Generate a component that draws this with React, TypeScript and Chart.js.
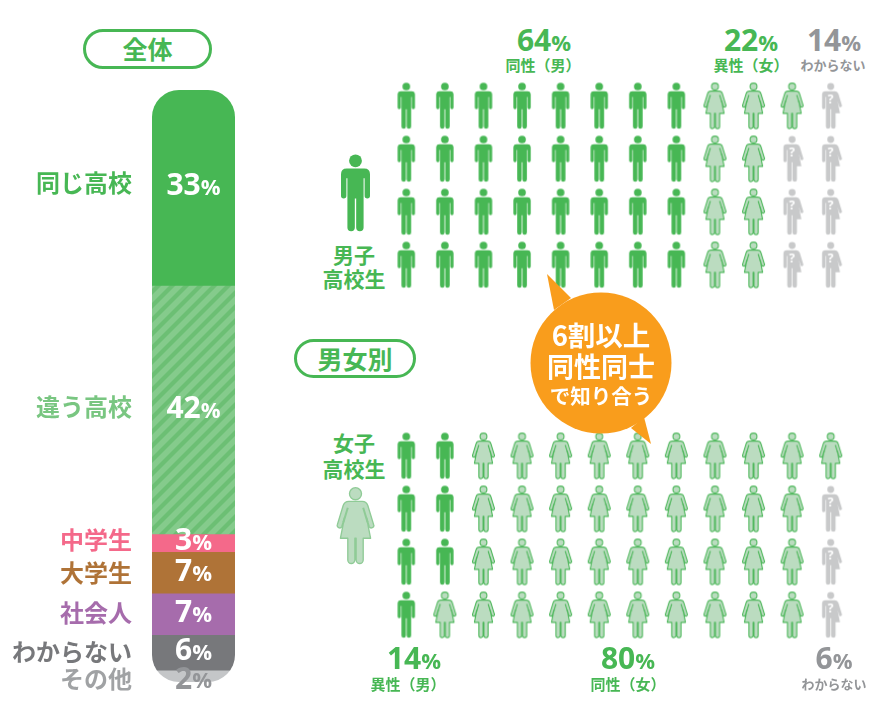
import React, { useEffect, useRef } from "react";
import { Chart, registerables } from "chart.js";

Chart.register(...registerables);

// ---- data ----
const barCategories = ["同じ高校", "違う高校", "中学生", "大学生", "社会人", "わからない", "その他"];
const barValues = [33, 42, 3, 7, 7, 6, 2];
const boysRows = [
  [8, 3, 1],
  [8, 2, 2],
  [8, 2, 2],
  [8, 2, 2],
];
const girlsRows = [
  [2, 10, 0],
  [2, 9, 1],
  [2, 9, 1],
  [1, 10, 1],
];
const boysPercents = [64, 22, 14];
const boysPercentLabels = ["同性（男）", "異性（女）", "わからない"];
const girlsPercents = [14, 80, 6];
const girlsPercentLabels = ["異性（男）", "同性（女）", "わからない"];

// ---- styles ----
const GREEN = "#47B754";
const barColors = [GREEN, "hatch", "#F4698A", "#AF7337", "#A66CAC", "#77787B", "#C4C6C8"];
const labelColors = [GREEN, "#79C681", "#F4698A", "#AF7337", "#A66CAC", "#77787B", "#A0A2A4"];
const valueColors = ["#fff", "#fff", "#fff", "#fff", "#fff", "#fff", "#939598"];
const valueNudge = [-1, 0, -1, 0, 0, -1, 4];
const labelNudge = [-5, -3, -3, 0, -1, -1, 3];
const GRAY_TEXT = "#939598";
const CJK = '"Noto Sans CJK JP", sans-serif';
const NUM = '"Open Sans", sans-serif';

const MAN_PATH =
  "M17 43H69Q86 43 86 60V124A8 8 0 0 1 70 124V72H67V218A11 11 0 0 1 45 218V132H41V218A11 11 0 0 1 19 218V72H16V124A8 8 0 0 1 0 124V60Q0 43 17 43Z";
const WOMAN_PATH =
  "M35 43H75Q88 43 92 56L109 112A7 7 0 0 1 96 118L88 92L100 153H78V218A10.5 10.5 0 0 1 57 218V153H53V218A10.5 10.5 0 0 1 32 218V153H10L22 92L14 118A7 7 0 0 1 1 112L18 56Q22 43 35 43Z";
const WOMAN_INNER = "M78 62L91 105M32 62L19 105";
const UNKNOWN_PATH =
  "M17 43H64Q77 43 81 56L98 112A7 7 0 0 1 85 118L77 92L89 153H67V218A11 11 0 0 1 45 218V132H41V218A11 11 0 0 1 19 218V72H16V124A8 8 0 0 1 0 124V60Q0 43 17 43Z";

function makeIcon(kind: "man" | "woman" | "unknown"): HTMLCanvasElement {
  const s = 46 / 228;
  const halfW = kind === "man" ? 43 : 55;
  const c = document.createElement("canvas");
  c.width = Math.ceil(halfW * 2 * s) + 4;
  c.height = 50;
  const ctx = c.getContext("2d")!;
  ctx.translate(c.width / 2, 2);
  ctx.scale(s, s);
  ctx.translate(-(kind === "man" || kind === "unknown" ? 43 : 55), 0);
  const headX = kind === "woman" ? 55 : 43;
  if (kind === "man") {
    ctx.fillStyle = GREEN;
    ctx.fill(new Path2D(MAN_PATH));
    ctx.beginPath();
    ctx.arc(headX, 20, 19, 0, Math.PI * 2);
    ctx.fill();
  } else if (kind === "woman") {
    ctx.fillStyle = "#BBDCC0";
    ctx.strokeStyle = "#4FB85C";
    ctx.lineWidth = 5.5;
    ctx.lineJoin = "round";
    const body = new Path2D(WOMAN_PATH);
    ctx.fill(body);
    ctx.stroke(body);
    ctx.stroke(new Path2D(WOMAN_INNER));
    ctx.beginPath();
    ctx.arc(headX, 20, 17, 0, Math.PI * 2);
    ctx.fill();
    ctx.stroke();
  } else {
    ctx.fillStyle = "#C8C9CA";
    ctx.fill(new Path2D(UNKNOWN_PATH));
    ctx.beginPath();
    ctx.arc(headX, 20, 17, 0, Math.PI * 2);
    ctx.fill();
    ctx.fillStyle = "#fff";
    ctx.font = `700 60px ${NUM}`;
    ctx.textAlign = "center";
    ctx.textBaseline = "middle";
    ctx.fillText("?", 43, 88);
  }
  return c;
}

function makeHatch(ctx: CanvasRenderingContext2D): CanvasPattern {
  const size = 14;
  const c = document.createElement("canvas");
  c.width = size;
  c.height = size;
  const p = c.getContext("2d")!;
  p.fillStyle = "#85CB8C";
  p.fillRect(0, 0, size, size);
  p.strokeStyle = "#6CBF74";
  p.lineWidth = 4.2;
  for (const o of [-size, 0, size]) {
    p.beginPath();
    p.moveTo(o - 2, size + 2);
    p.lineTo(o + size + 2, -2);
    p.stroke();
  }
  return ctx.createPattern(c, "repeat")!;
}

function rowsToPoints(rows: number[][], kindIndex: number) {
  const pts: { x: number; y: number }[] = [];
  rows.forEach((counts, y) => {
    const start = counts.slice(0, kindIndex).reduce((a, b) => a + b, 0);
    for (let i = 0; i < counts[kindIndex]; i++) pts.push({ x: start + i, y });
  });
  return pts;
}

function makeGrid(canvas: HTMLCanvasElement, rows: number[][]) {
  const kinds = ["man", "woman", "unknown"] as const;
  return new Chart(canvas, {
    type: "scatter",
    data: {
      datasets: kinds.map((k, i) => ({
        label: k,
        data: rowsToPoints(rows, i),
        pointStyle: makeIcon(k),
        pointRadius: 20,
        clip: false as any,
      })),
    },
    options: {
      animation: false,
      responsive: false,
      maintainAspectRatio: false,
      devicePixelRatio: 1,
      layout: { padding: 0, autoPadding: false },
      plugins: { legend: { display: false }, tooltip: { enabled: false } },
      scales: {
        x: { type: "linear", display: false, min: -0.5, max: 11.5 },
        y: { type: "linear", display: false, min: -0.5, max: 3.5, reverse: true },
      },
    },
  });
}

const barDecor = {
  id: "barDecor",
  beforeDatasetsDraw(chart: any) {
    const { ctx, chartArea: a } = chart;
    ctx.save();
    ctx.beginPath();
    ctx.roundRect(a.left, a.top, a.right - a.left, a.bottom - a.top, 27);
    ctx.clip();
  },
  afterDatasetsDraw(chart: any) {
    const { ctx, chartArea: a, scales } = chart;
    ctx.restore();
    let cum = 0;
    const cx = (a.left + a.right) / 2;
    barValues.forEach((v, i) => {
      const mid = scales.y.getPixelForValue(cum + v / 2);
      cum += v;
      ctx.save();
      ctx.textBaseline = "middle";
      ctx.font = `700 24px ${CJK}`;
      ctx.textAlign = "right";
      ctx.fillStyle = labelColors[i];
      ctx.fillText(barCategories[i], 132, mid + labelNudge[i]);
      const num = String(v);
      ctx.font = `700 30px ${NUM}`;
      const w1 = ctx.measureText(num).width;
      ctx.font = `700 22px ${NUM}`;
      const w2 = ctx.measureText("%").width;
      const left = cx - (w1 + w2) / 2;
      ctx.textAlign = "left";
      ctx.fillStyle = valueColors[i];
      ctx.font = `700 30px ${NUM}`;
      ctx.fillText(num, left, mid + valueNudge[i]);
      ctx.font = `700 22px ${NUM}`;
      ctx.fillText("%", left + w1, mid + valueNudge[i] + 2);
      ctx.restore();
    });
  },
};

function T(props: { x: number; y: number; size: number; color: string; children: React.ReactNode; font?: string }) {
  return (
    <div
      style={{
        position: "absolute",
        left: props.x,
        top: props.y,
        transform: "translate(-50%,-50%)",
        fontFamily: props.font ?? CJK,
        fontWeight: 700,
        fontSize: props.size,
        color: props.color,
        lineHeight: 1,
        whiteSpace: "nowrap",
      }}
    >
      {props.children}
    </div>
  );
}

function Pct(props: { x: number; y: number; value: number; color: string }) {
  return (
    <T x={props.x} y={props.y} size={30} color={props.color} font={NUM}>
      {props.value}
      <span style={{ fontSize: 22 }}>%</span>
    </T>
  );
}

function Pill(props: { left: number; top: number; w: number; h: number; text: string }) {
  return (
    <div
      style={{
        position: "absolute",
        left: props.left,
        top: props.top,
        width: props.w,
        height: props.h,
        boxSizing: "border-box",
        border: `3px solid ${GREEN}`,
        borderRadius: props.h / 2,
        background: "#fff",
        color: GREEN,
        fontFamily: CJK,
        fontWeight: 700,
        fontSize: 25,
        lineHeight: `${props.h - 7}px`,
        textAlign: "center",
      }}
    >
      {props.text}
    </div>
  );
}

export default function App() {
  const barRef = useRef<HTMLCanvasElement>(null);
  const topRef = useRef<HTMLCanvasElement>(null);
  const botRef = useRef<HTMLCanvasElement>(null);

  useEffect(() => {
    const ctx = barRef.current!.getContext("2d")!;
    const hatch = makeHatch(ctx);
    const bar = new Chart(barRef.current!, {
      type: "bar",
      data: {
        labels: ["全体"],
        datasets: barValues.map((v, i) => ({
          label: barCategories[i],
          data: [v],
          backgroundColor: barColors[i] === "hatch" ? hatch : barColors[i],
          borderWidth: 0,
          barPercentage: 1,
          categoryPercentage: 1,
        })),
      },
      options: {
        animation: false,
        responsive: false,
        maintainAspectRatio: false,
        devicePixelRatio: 1,
        layout: { padding: { left: 152, right: 25, top: 10, bottom: 26 } },
        plugins: { legend: { display: false }, tooltip: { enabled: false } },
        scales: {
          x: { stacked: true, display: false },
          y: { stacked: true, display: false, min: 0, max: 100, reverse: true },
        },
      },
      plugins: [barDecor],
    });
    const top = makeGrid(topRef.current!, boysRows);
    const bot = makeGrid(botRef.current!, girlsRows);
    return () => {
      bar.destroy();
      top.destroy();
      bot.destroy();
    };
  }, []);

  return (
    <div style={{ position: "absolute", left: 0, top: 0, width: 890, height: 708, background: "#fff", overflow: "hidden" }}>
      <canvas ref={barRef} width={260} height={628} style={{ position: "absolute", left: 0, top: 80 }} />
      <canvas ref={topRef} width={463} height={212} style={{ position: "absolute", left: 387, top: 79 }} />
      <canvas ref={botRef} width={463} height={212} style={{ position: "absolute", left: 387, top: 429 }} />

      <Pill left={83} top={29} w={129} h={40} text="全体" />
      <Pill left={294} top={339} w={122} h={39} text="男女別" />

      <Pct x={544} y={40} value={boysPercents[0]} color={GREEN} />
      <T x={543} y={64} size={15} color={GREEN}>{boysPercentLabels[0]}</T>
      <Pct x={751} y={40} value={boysPercents[1]} color={GREEN} />
      <T x={751} y={64} size={15} color={GREEN}>{boysPercentLabels[1]}</T>
      <Pct x={834} y={40} value={boysPercents[2]} color={GRAY_TEXT} />
      <T x={833} y={64} size={13} color={GRAY_TEXT}>{boysPercentLabels[2]}</T>

      <Pct x={414} y={658} value={girlsPercents[0]} color={GREEN} />
      <T x={408} y={683} size={15} color={GREEN}>{girlsPercentLabels[0]}</T>
      <Pct x={628} y={658} value={girlsPercents[1]} color={GREEN} />
      <T x={628} y={683} size={15} color={GREEN}>{girlsPercentLabels[1]}</T>
      <Pct x={834} y={658} value={girlsPercents[2]} color={GRAY_TEXT} />
      <T x={834} y={683} size={13} color={GRAY_TEXT}>{girlsPercentLabels[2]}</T>

      <T x={354} y={254} size={21} color={GREEN}>男子</T>
      <T x={354} y={278} size={21} color={GREEN}>高校生</T>
      <T x={354} y={442} size={21} color={GREEN}>女子</T>
      <T x={354} y={468} size={21} color={GREEN}>高校生</T>

      <svg width={29} height={77} viewBox="0 0 86 228" style={{ position: "absolute", left: 340.5, top: 154, overflow: "visible" }}>
        <path d={MAN_PATH} fill={GREEN} />
        <circle cx={43} cy={20} r={19} fill={GREEN} />
      </svg>
      <svg width={37} height={77} viewBox="0 0 110 230" style={{ position: "absolute", left: 336.5, top: 487, overflow: "visible" }}>
        <path d={WOMAN_PATH} fill="#BBDCC0" stroke="#8FCB96" strokeWidth={4} strokeLinejoin="round" />
        <path d={WOMAN_INNER} fill="none" stroke="#8FCB96" strokeWidth={6} />
        <circle cx={55} cy={20} r={18} fill="#BBDCC0" stroke="#8FCB96" strokeWidth={4} />
      </svg>

      <svg width={890} height={708} style={{ position: "absolute", left: 0, top: 0 }}>
        <circle cx={601} cy={363} r={70.5} fill="#F99D1C" />
        <polygon points="547,274 571,298 554,310" fill="#F99D1C" />
        <polygon points="651,444 644,417 631,428" fill="#F99D1C" />
      </svg>
      <T x={601} y={335} size={27.5} color="#fff">6割以上</T>
      <T x={601} y={365} size={27} color="#fff">同性同士</T>
      <T x={601} y={395} size={20.5} color="#fff">で知り合う</T>
    </div>
  );
}
